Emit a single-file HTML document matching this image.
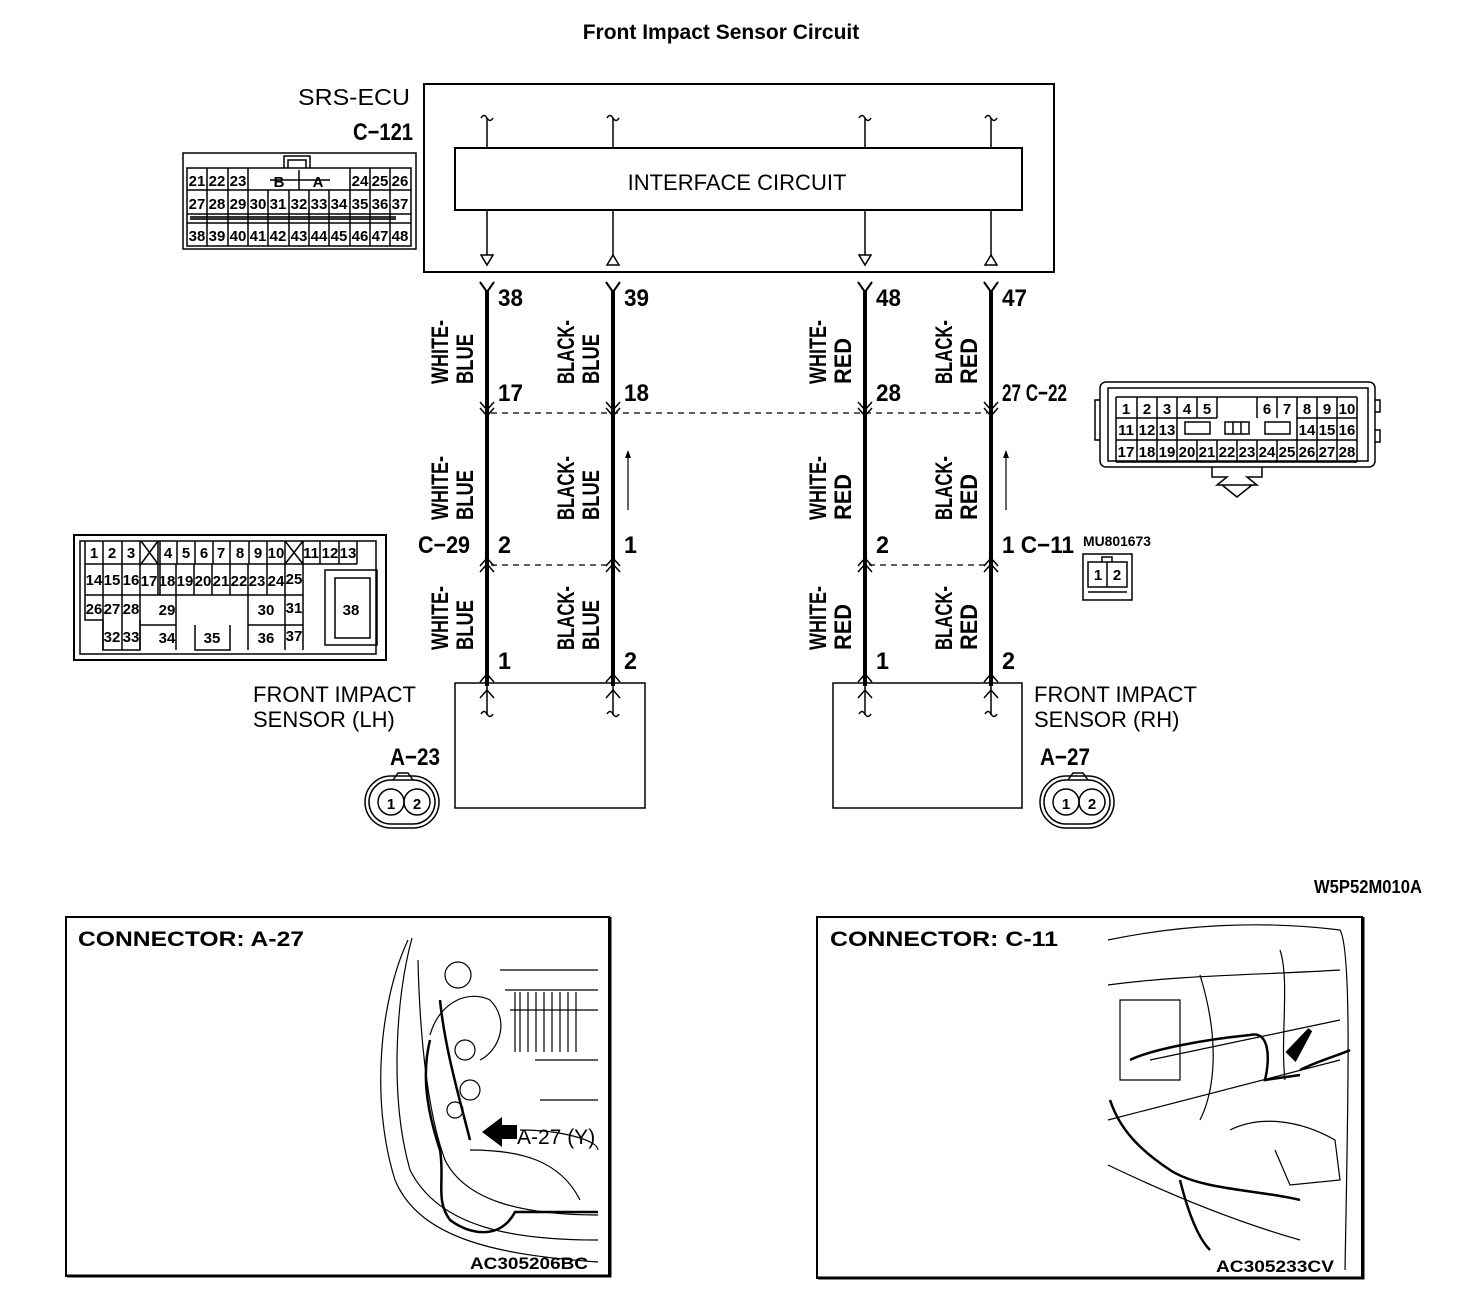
<!DOCTYPE html>
<html><head><meta charset="utf-8"><style>
html,body{margin:0;padding:0;background:#fff}
svg{display:block}
text{font-family:"Liberation Sans",sans-serif;fill:#000}
.b{font-weight:bold}
.n{font-weight:bold;font-size:15px}
</style></head><body>
<svg width="1472" height="1308" viewBox="0 0 1472 1308" xmlns="http://www.w3.org/2000/svg">
<defs>
<path id="tl" d="M-6,118 q3,-5 6,0 q3,5 6,0" fill="none" stroke="#000" stroke-width="1.5"/>
<path id="Y" d="M-7,282 L0,292 L7,282" fill="none" stroke="#000" stroke-width="2"/>
<path id="cd" d="M-7,402 L0,410 L7,402 M-7,408 L0,416 L7,408" fill="none" stroke="#000" stroke-width="1.5"/>
<path id="cu" d="M-7,566 L0,558 L7,566 M-7,572 L0,564 L7,572" fill="none" stroke="#000" stroke-width="1.5"/>
<path id="c1" d="M-7,682 L0,674 L7,682 M-7,698 L0,690 L7,698" fill="none" stroke="#000" stroke-width="1.5"/>
</defs>
<text x="721" y="39" text-anchor="middle" class="b" font-size="21">Front Impact Sensor Circuit</text>

<text x="298" y="105" font-size="23" textLength="112" lengthAdjust="spacingAndGlyphs">SRS-ECU</text>
<text x="353" y="140" class="b" font-size="24" textLength="60" lengthAdjust="spacingAndGlyphs">C−121</text>
<rect x="424" y="84" width="630" height="188" fill="none" stroke="#000" stroke-width="2"/>
<rect x="455" y="148" width="567" height="62" fill="none" stroke="#000" stroke-width="2"/>
<text x="737" y="190" text-anchor="middle" font-size="22">INTERFACE CIRCUIT</text>
<g stroke="#000" stroke-width="1.5" fill="none">
<path d="M487,118V148M613,118V148M865,118V148M991,118V148"/>
<path d="M487,210V255M613,210V265M865,210V255M991,210V265"/>
<path d="M481,255h12l-6,10z M607,265h12l-6,-10z M859,255h12l-6,10z M985,265h12l-6,-10z" fill="#fff"/>
</g>
<use href="#tl" x="487"/><use href="#tl" x="613"/><use href="#tl" x="865"/><use href="#tl" x="991"/>

<g stroke="#000" stroke-width="4"><path d="M487,290V686M613,290V686M865,290V686M991,290V686"/></g>
<use href="#Y" x="487"/><use href="#Y" x="613"/><use href="#Y" x="865"/><use href="#Y" x="991"/>
<use href="#cd" x="487"/><use href="#cd" x="613"/><use href="#cd" x="865"/><use href="#cd" x="991"/>
<use href="#cu" x="487"/><use href="#cu" x="613"/><use href="#cu" x="865"/><use href="#cu" x="991"/>
<use href="#c1" x="487"/><use href="#c1" x="613"/><use href="#c1" x="865"/><use href="#c1" x="991"/>
<g stroke="#000" stroke-width="1.5" fill="none"><path d="M487,686V715M613,686V715M865,686V715M991,686V715"/></g>
<g transform="translate(0,596)"><use href="#tl" x="487"/><use href="#tl" x="613"/><use href="#tl" x="865"/><use href="#tl" x="991"/></g>
<path d="M491,413H987" stroke="#000" stroke-width="1.2" stroke-dasharray="6,5"/>
<path d="M491,565H609M869,565H987" stroke="#000" stroke-width="1.2" stroke-dasharray="6,5"/>
<path d="M628,510V452M1006,510V452" stroke="#000" stroke-width="1.2"/>
<path d="M625,458l3,-8l3,8zM1003,458l3,-8l3,8z"/>

<g class="b" font-size="24">
<text x="498" y="306" textLength="25" lengthAdjust="spacingAndGlyphs">38</text>
<text x="624" y="306" textLength="25" lengthAdjust="spacingAndGlyphs">39</text>
<text x="876" y="306" textLength="25" lengthAdjust="spacingAndGlyphs">48</text>
<text x="1002" y="306" textLength="25" lengthAdjust="spacingAndGlyphs">47</text>
<text x="498" y="401" textLength="25" lengthAdjust="spacingAndGlyphs">17</text>
<text x="624" y="401" textLength="25" lengthAdjust="spacingAndGlyphs">18</text>
<text x="876" y="401" textLength="25" lengthAdjust="spacingAndGlyphs">28</text>
<text x="1002" y="401" textLength="65" lengthAdjust="spacingAndGlyphs">27 C−22</text>
<text x="418" y="553" textLength="52" lengthAdjust="spacingAndGlyphs">C−29</text>
<text x="498" y="553" textLength="13" lengthAdjust="spacingAndGlyphs">2</text>
<text x="624" y="553" textLength="13" lengthAdjust="spacingAndGlyphs">1</text>
<text x="876" y="553" textLength="13" lengthAdjust="spacingAndGlyphs">2</text>
<text x="1002" y="553" textLength="72" lengthAdjust="spacingAndGlyphs">1 C−11</text>
<text x="498" y="669" textLength="13" lengthAdjust="spacingAndGlyphs">1</text>
<text x="624" y="669" textLength="13" lengthAdjust="spacingAndGlyphs">2</text>
<text x="876" y="669" textLength="13" lengthAdjust="spacingAndGlyphs">1</text>
<text x="1002" y="669" textLength="13" lengthAdjust="spacingAndGlyphs">2</text>
</g>

<g class="b" font-size="24">
<g>
<text transform="translate(448,384) rotate(-90)" textLength="64" lengthAdjust="spacingAndGlyphs">WHITE-</text>
<text transform="translate(473,384) rotate(-90)" textLength="50" lengthAdjust="spacingAndGlyphs">BLUE</text>
<text transform="translate(574,384) rotate(-90)" textLength="64" lengthAdjust="spacingAndGlyphs">BLACK-</text>
<text transform="translate(599,384) rotate(-90)" textLength="50" lengthAdjust="spacingAndGlyphs">BLUE</text>
<text transform="translate(826,384) rotate(-90)" textLength="64" lengthAdjust="spacingAndGlyphs">WHITE-</text>
<text transform="translate(851,384) rotate(-90)" textLength="46" lengthAdjust="spacingAndGlyphs">RED</text>
<text transform="translate(952,384) rotate(-90)" textLength="64" lengthAdjust="spacingAndGlyphs">BLACK-</text>
<text transform="translate(977,384) rotate(-90)" textLength="46" lengthAdjust="spacingAndGlyphs">RED</text>
</g>
<g transform="translate(0,136)">
<text transform="translate(448,384) rotate(-90)" textLength="64" lengthAdjust="spacingAndGlyphs">WHITE-</text>
<text transform="translate(473,384) rotate(-90)" textLength="50" lengthAdjust="spacingAndGlyphs">BLUE</text>
<text transform="translate(574,384) rotate(-90)" textLength="64" lengthAdjust="spacingAndGlyphs">BLACK-</text>
<text transform="translate(599,384) rotate(-90)" textLength="50" lengthAdjust="spacingAndGlyphs">BLUE</text>
<text transform="translate(826,384) rotate(-90)" textLength="64" lengthAdjust="spacingAndGlyphs">WHITE-</text>
<text transform="translate(851,384) rotate(-90)" textLength="46" lengthAdjust="spacingAndGlyphs">RED</text>
<text transform="translate(952,384) rotate(-90)" textLength="64" lengthAdjust="spacingAndGlyphs">BLACK-</text>
<text transform="translate(977,384) rotate(-90)" textLength="46" lengthAdjust="spacingAndGlyphs">RED</text>
</g>
<g transform="translate(0,266)">
<text transform="translate(448,384) rotate(-90)" textLength="64" lengthAdjust="spacingAndGlyphs">WHITE-</text>
<text transform="translate(473,384) rotate(-90)" textLength="50" lengthAdjust="spacingAndGlyphs">BLUE</text>
<text transform="translate(574,384) rotate(-90)" textLength="64" lengthAdjust="spacingAndGlyphs">BLACK-</text>
<text transform="translate(599,384) rotate(-90)" textLength="50" lengthAdjust="spacingAndGlyphs">BLUE</text>
<text transform="translate(826,384) rotate(-90)" textLength="64" lengthAdjust="spacingAndGlyphs">WHITE-</text>
<text transform="translate(851,384) rotate(-90)" textLength="46" lengthAdjust="spacingAndGlyphs">RED</text>
<text transform="translate(952,384) rotate(-90)" textLength="64" lengthAdjust="spacingAndGlyphs">BLACK-</text>
<text transform="translate(977,384) rotate(-90)" textLength="46" lengthAdjust="spacingAndGlyphs">RED</text>
</g>
</g>

<rect x="455" y="683" width="190" height="125" fill="none" stroke="#000" stroke-width="1.5"/>
<rect x="833" y="683" width="189" height="125" fill="none" stroke="#000" stroke-width="1.5"/>
<text x="253" y="702" font-size="22">FRONT IMPACT</text>
<text x="253" y="727" font-size="22">SENSOR (LH)</text>
<text x="1034" y="702" font-size="22">FRONT IMPACT</text>
<text x="1034" y="727" font-size="22">SENSOR (RH)</text>
<text x="390" y="765" class="b" font-size="24" textLength="50" lengthAdjust="spacingAndGlyphs">A−23</text>
<text x="1040" y="765" class="b" font-size="24" textLength="50" lengthAdjust="spacingAndGlyphs">A−27</text>
<g id="oval" fill="none" stroke="#000" stroke-width="1.5">
<rect x="365" y="776" width="74" height="52" rx="26"/>
<rect x="369" y="780" width="66" height="44" rx="22"/>
<path d="M393,780l5,-7h10l5,7"/>
<circle cx="391" cy="802" r="13"/><circle cx="417" cy="802" r="13"/>
<text x="391" y="809" text-anchor="middle" class="n" font-size="16" stroke="none">1</text>
<text x="417" y="809" text-anchor="middle" class="n" font-size="16" stroke="none">2</text>
</g>
<g transform="translate(675,0)"><use href="#oval"/></g>

<g fill="none" stroke="#000" stroke-width="1.5">
<rect x="183" y="153" width="233" height="96"/>
<rect x="187" y="168" width="224" height="78"/>
<path d="M284,168V156h26v12M288,168V160h18v8"/>
<path d="M187,190H411M187,214H411M187,223H411"/>
<path d="M207,168V246M228,168V246M248,190V246M268,190V246M289,190V246M309,190V246M329,190V246M350,190V246M370,168V246M390,168V246M248,168V190M350,168V190"/>
<path d="M270,180H330M299,170V190"/>
</g>
<path d="M190,216h206v4H190z" fill="#000" opacity="0.8"/>
<g class="n" text-anchor="middle">
<text x="197" y="186">21</text><text x="217" y="186">22</text><text x="238" y="186">23</text><text x="279" y="187">B</text><text x="318" y="187">A</text><text x="360" y="186">24</text><text x="380" y="186">25</text><text x="400" y="186">26</text>
<text x="197" y="209">27</text><text x="217" y="209">28</text><text x="238" y="209">29</text><text x="258" y="209">30</text><text x="278" y="209">31</text><text x="299" y="209">32</text><text x="319" y="209">33</text><text x="339" y="209">34</text><text x="360" y="209">35</text><text x="380" y="209">36</text><text x="400" y="209">37</text>
<text x="197" y="241">38</text><text x="217" y="241">39</text><text x="238" y="241">40</text><text x="258" y="241">41</text><text x="278" y="241">42</text><text x="299" y="241">43</text><text x="319" y="241">44</text><text x="339" y="241">45</text><text x="360" y="241">46</text><text x="380" y="241">47</text><text x="400" y="241">48</text>
</g>

<g fill="none" stroke="#000" stroke-width="1.5">
<rect x="74" y="535" width="312" height="125" stroke-width="2"/>
<rect x="80" y="541" width="296" height="113"/>
<path d="M85,541V620h18V650h37V620 M103,620H85"/>
<path d="M85,564H303M303,564H357M85,595H303M140,625H176M248,625H303M195,625V650H230V625"/>
<path d="M103,541V650M122,541V650M140,541V650M158,541V564M160,541V595M177,541V564M195,541V564M213,541V564M230,541V564M249,541V564M267,541V564M285,541V650M303,541V650M320,541V564M339,541V564M357,541V564"/>
<path d="M158,564V595M176,564V650M194,564V595M212,564V595M230,564V595M248,564V650M267,564V595"/>
<path d="M141,541L158,564M158,541L141,564M285,541L303,564M303,541L285,564"/>
<rect x="325" y="570" width="52" height="75"/>
<rect x="335" y="578" width="35" height="60"/>
</g>
<g class="n" text-anchor="middle">
<text x="94" y="558">1</text><text x="112" y="558">2</text><text x="131" y="558">3</text><text x="168" y="558">4</text><text x="186" y="558">5</text><text x="204" y="558">6</text><text x="221" y="558">7</text><text x="240" y="558">8</text><text x="258" y="558">9</text><text x="276" y="558">10</text><text x="311" y="558">11</text><text x="330" y="558">12</text><text x="348" y="558">13</text>
<text x="94" y="585">14</text><text x="112" y="585">15</text><text x="131" y="585">16</text><text x="149" y="586">17</text><text x="167" y="586">18</text><text x="185" y="586">19</text><text x="203" y="586">20</text><text x="221" y="586">21</text><text x="239" y="586">22</text><text x="257" y="586">23</text><text x="276" y="586">24</text><text x="294" y="584">25</text>
<text x="94" y="614">26</text><text x="112" y="614">27</text><text x="131" y="614">28</text><text x="167" y="615">29</text><text x="266" y="615">30</text><text x="294" y="613">31</text><text x="351" y="615">38</text>
<text x="112" y="642">32</text><text x="131" y="642">33</text><text x="167" y="643">34</text><text x="212" y="643">35</text><text x="266" y="643">36</text><text x="294" y="641">37</text>
</g>

<g fill="none" stroke="#000" stroke-width="1.5">
<rect x="1100" y="382" width="275" height="85" rx="6"/>
<rect x="1108" y="388" width="260" height="73"/>
<path d="M1116,397H1357M1116,418H1217M1297,418H1357M1116,440H1357M1116,462H1357M1116,397V462"/>
<path d="M1137,397V462M1157,397V462M1177,397V462M1197,397V418M1217,397V418M1257,397V418M1277,397V418M1297,397V462M1317,397V462M1337,397V462M1357,397V462"/>
<path d="M1197,440V462M1217,440V462M1237,440V462M1257,440V462M1277,440V462"/>
<rect x="1185" y="422" width="25" height="12"/><rect x="1225" y="422" width="24" height="12"/><path d="M1233,422V434M1241,422V434"/><rect x="1265" y="422" width="25" height="12"/>
<path d="M1212,467v10h15l-10,8h40l-10,-8h15v-10M1222,485l15,12l15,-12"/>
<path d="M1100,400h-5v40h5M1375,400h5v12h-5M1375,430h5v12h-5"/>
</g>
<g class="n" text-anchor="middle">
<text x="1126" y="414">1</text><text x="1147" y="414">2</text><text x="1167" y="414">3</text><text x="1187" y="414">4</text><text x="1207" y="414">5</text><text x="1267" y="414">6</text><text x="1287" y="414">7</text><text x="1307" y="414">8</text><text x="1327" y="414">9</text><text x="1347" y="414">10</text>
<text x="1126" y="435">11</text><text x="1147" y="435">12</text><text x="1167" y="435">13</text><text x="1307" y="435">14</text><text x="1327" y="435">15</text><text x="1347" y="435">16</text>
<text x="1126" y="457">17</text><text x="1147" y="457">18</text><text x="1167" y="457">19</text><text x="1187" y="457">20</text><text x="1207" y="457">21</text><text x="1227" y="457">22</text><text x="1247" y="457">23</text><text x="1267" y="457">24</text><text x="1287" y="457">25</text><text x="1307" y="457">26</text><text x="1327" y="457">27</text><text x="1347" y="457">28</text>
</g>

<text x="1083" y="546" class="b" font-size="14" textLength="68" lengthAdjust="spacingAndGlyphs">MU801673</text>
<g fill="none" stroke="#000" stroke-width="1.5">
<rect x="1083" y="554" width="49" height="46"/>
<rect x="1088" y="562" width="39" height="25"/>
<path d="M1107,562V587M1088,592H1127M1102,562v-5h10v5"/>
</g>
<text x="1098" y="580" text-anchor="middle" class="n" font-size="16">1</text>
<text x="1117" y="580" text-anchor="middle" class="n" font-size="16">2</text>

<text x="1422" y="893" text-anchor="end" class="b" font-size="18" textLength="108" lengthAdjust="spacingAndGlyphs">W5P52M010A</text>

<rect x="66" y="917" width="543" height="359" fill="none" stroke="#000" stroke-width="2"/>
<path d="M67,1276H610V917" stroke="#000" stroke-width="3" fill="none"/>
<rect x="817" y="917" width="545" height="361" fill="none" stroke="#000" stroke-width="2"/>
<path d="M818,1278H1363V917" stroke="#000" stroke-width="3" fill="none"/>
<text x="78" y="946" class="b" font-size="21" textLength="226" lengthAdjust="spacingAndGlyphs">CONNECTOR: A-27</text>
<text x="830" y="946" class="b" font-size="21" textLength="228" lengthAdjust="spacingAndGlyphs">CONNECTOR: C-11</text>
<text x="470" y="1269" class="b" font-size="17" textLength="118" lengthAdjust="spacingAndGlyphs">AC305206BC</text>
<text x="1216" y="1272" class="b" font-size="17" textLength="118" lengthAdjust="spacingAndGlyphs">AC305233CV</text>

<g fill="none" stroke="#000" stroke-width="1.2">
<path d="M408,940C380,1000 370,1100 395,1180C420,1240 500,1255 598,1262"/>
<path d="M412,938C395,1000 390,1100 410,1170C440,1230 520,1240 598,1240"/>
<path d="M418,960C420,1050 430,1120 445,1160C465,1200 520,1215 598,1215"/>
<path d="M430,1035C440,1000 470,990 490,1000C510,1020 500,1050 480,1060"/>
<path d="M500,970H598M505,990H598M510,1010H598M535,1060H598M540,1100H598M520,1130C560,1130 598,1140 598,1150"/>
<path d="M515,992v60M520,992v60M528,992v60M536,992v60M544,992v60M552,992v60M560,992v60M568,992v60M576,992v60"/>
<circle cx="458" cy="975" r="13"/><circle cx="465" cy="1050" r="10"/><circle cx="470" cy="1090" r="10"/><circle cx="455" cy="1110" r="8"/>
<path d="M470,1150C520,1150 560,1160 580,1200"/>
</g>
<g fill="none" stroke="#000" stroke-width="2.5">
<path d="M430,1040C420,1080 430,1120 440,1150C445,1180 435,1200 450,1220C470,1235 500,1240 515,1212H598"/>
<path d="M440,1000C445,1050 460,1100 470,1140"/>
</g>
<path d="M517,1125h-15v-8l-20,15l20,15v-8h15z" fill="#000"/>
<text x="517" y="1144" font-size="21">A-27 (Y)</text>

<g fill="none" stroke="#000" stroke-width="1.2">
<path d="M1108,940C1180,925 1260,920 1340,930C1352,950 1348,1100 1345,1270"/>
<path d="M1108,985C1180,975 1260,975 1340,970M1150,1060L1340,1020M1108,1120L1340,1060M1108,1165C1160,1190 1230,1220 1300,1240"/>
<path d="M1230,1130C1260,1115 1300,1120 1335,1140L1340,1180L1290,1185L1275,1150"/>
<path d="M1200,975C1220,1040 1215,1090 1200,1120"/>
<path d="M1120,1000h60v80h-60z"/>
<path d="M1280,950C1290,980 1280,1040 1285,1080"/>
</g>
<g fill="none" stroke="#000" stroke-width="2.5">
<path d="M1130,1060C1150,1050 1200,1040 1250,1035C1270,1030 1270,1060 1265,1080L1300,1075"/>
<path d="M1110,1100C1120,1130 1140,1150 1170,1170C1200,1190 1260,1190 1300,1200"/>
<path d="M1180,1180C1190,1220 1200,1240 1210,1250"/>
<path d="M1300,1070C1320,1060 1340,1055 1350,1050"/>
</g>
<path d="M1310,1030l-15,28l-6,-6z" fill="#000" stroke="#000" stroke-width="5"/>
</svg>
</body></html>
